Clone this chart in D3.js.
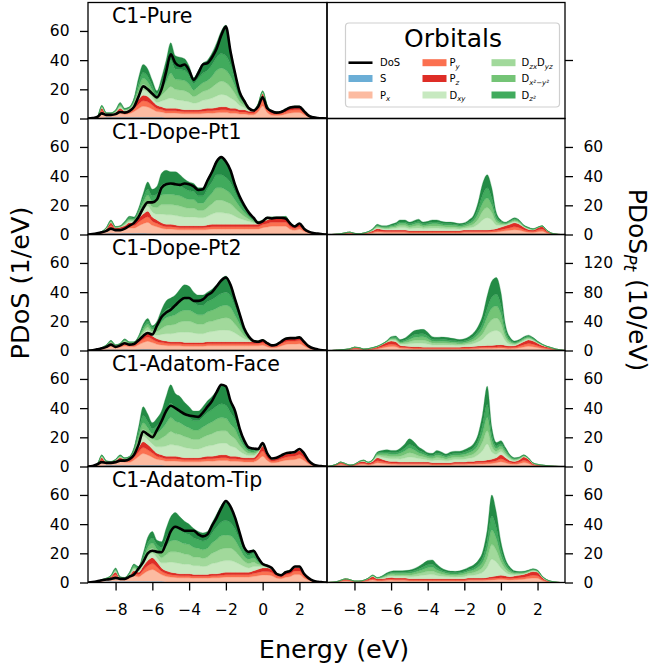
<!DOCTYPE html>
<html><head><meta charset="utf-8">
<script src="https://cdn.jsdelivr.net/npm/d3@7"></script>
<style>body{margin:0;background:#fff}svg{display:block}text{font-family:"DejaVu Sans",sans-serif}</style>
</head><body><svg id="c" width="654" height="672"></svg>
<script>
const energy=[-9.5,-9.25,-9,-8.75,-8.5,-8.25,-8,-7.75,-7.5,-7.25,-7,-6.75,-6.5,-6.25,-6,-5.75,-5.5,-5.25,-5,-4.75,-4.5,-4.25,-4,-3.75,-3.5,-3.25,-3,-2.75,-2.5,-2.25,-2,-1.75,-1.5,-1.25,-1,-0.75,-0.5,-0.25,0,0.25,0.5,0.75,1,1.25,1.5,1.75,2,2.25,2.5,2.75,3,3.25,3.5];
const xTicks=[-8,-6,-4,-2,0,2];
const yTicks=[0,20,40,60];
const yTicksPt2=[0,40,80,120];
const panelTitles=["C1-Pure","C1-Dope-Pt1","C1-Dope-Pt2","C1-Adatom-Face","C1-Adatom-Tip"];
const orbitalKeys=["S","Px","Py","Pz","Dxy","Dzx","Dyz","Dx2","Dz2"];
const orbitalColors=["#6baed6","#fcbba1","#fb7050","#de2d26","#c7e9c0","#a1d99b","#74c476","#41ab5d","#238b45"];

// ---- C1-Pure (left) ----
const pure_S=[0,0,0.2,0.5,0.8,0.8,0.8,0.8,0.8,0.8,0.8,0.8,0.8,0.8,0.8,0.8,0.8,0.4,0.4,0.4,0.4,0.4,0.4,0.4,0.4,0.4,0.4,0.3,0.3,0.3,0.3,0.3,0.3,0.3,0.3,0.3,0.3,0.3,0.3,0.2,0.2,0.2,0.2,0.2,0.2,0.2,0.2,0.2,0.2,0,0,0,0];
const pure_Px=[0,0.2,0.4,3.5,1,1,1.6,3,2,2.6,4,6,7.6,7,5.6,4,3.6,3.3,3.3,3.3,3,2.8,2.8,2.8,2.8,3,3.3,3.3,3.6,3.8,3.8,3.3,3.3,2.8,2.8,2.3,2.3,4.3,8.3,3.9,2.1,1.9,2.1,2.9,3.6,3.9,3.9,2.4,0.9,0.4,0.2,0.1,0];
const pure_Py=[0,0.1,0.2,1.5,0.5,0.5,0.8,1.6,1.1,1.3,2,3,3.8,3.6,2.8,2,1.8,1.6,1.6,1.6,1.5,1.4,1.4,1.4,1.4,1.5,1.6,1.7,1.8,1.9,1.9,1.7,1.7,1.4,1.4,1.2,1.2,2.2,4.2,1.9,1.1,0.9,1.1,1.4,1.8,1.9,1.9,1.2,0.45,0.2,0.1,0,0];
const pure_Pz=[0,0,0.2,1.5,0.7,0.7,0.8,1.6,1.1,1.3,2.2,3.2,3.8,3.6,2.8,2.2,1.8,1.7,1.7,1.7,1.6,1.4,1.4,1.4,1.4,1.6,1.7,1.7,1.8,2,2,1.7,1.7,1.5,1.5,1.2,1.2,2.2,4.2,2,1.1,1,1.1,1.5,1.9,2,2,1.2,0.45,0.2,0,0,0];
const pure_Dxy=[0,0,0,0.5,0.3,0.3,0.4,0.8,0.4,0.4,1,2.5,3.5,3,2.5,2,4,6,7,6,6,6,5.5,4.5,5,6,6,7,8,8.5,8,7,5,3,1.5,0.8,0.3,0.3,0.5,0.3,0.2,0.3,0.3,0.3,0.3,0.3,0.3,0,0,0,0,0,0];
const pure_Dzx=[0,0,0,0.5,0.2,0.2,0.4,0.8,0.4,0.4,1,2.5,4,3.5,2.5,2,4,6,8,7,7,7,6,4.5,5.5,6,6.5,7.5,8.5,9,8.5,7.5,5,2.5,1.5,0.6,0.2,0.2,0.4,0.2,0.1,0,0,0,0,0,0,0,0,0,0,0,0];
const pure_Dyz=[0,0,0,0.4,0.2,0.2,0.4,0.8,0.4,0.4,1,3,4,3.5,2.5,2,4,6,9,7,7,7,6,4.5,5.5,6,6.5,7.5,9,9,8.5,7.5,5,2.5,1.5,0.6,0.2,0.2,0.4,0.2,0.1,0,0,0,0,0,0,0,0,0,0,0,0];
const pure_Dx2=[0,0,0,0.3,0.1,0.1,0.4,0.8,0.4,0.4,1,3,4,4,3,2,4,7,9,7,7,7,6,4.5,5.5,6.5,7,8,9,10,10,8,5,2.5,1.5,0.5,0.2,0.2,0.4,0.2,0.1,0,0,0,0,0,0,0,0,0,0,0,0];
const pure_Dz2=[0,0,0,0.3,0.2,0.2,0.4,0.8,0.4,0.4,1,4,5.5,5,3.5,2,4,8,12,9,8.5,8,6.5,4,5.5,7,7,8,10,15.5,21,11,5,2.5,1,0.5,0.1,0.1,0.3,0.1,0,0,0,0,0,0,0,0,0,0,0,0,0];
const pure_DoS=[0,0.3,1,3.5,2.5,2.5,3,4.5,4,5,8,15,22,20,17,14.5,20,32,44,38,36,37,33,26.5,31,37,38,42,48,57,63,46,31,18,12,7,5.5,8,14.5,7,5,4,4.5,6,7.5,8,8,5,2,0.8,0.3,0.1,0];

// ---- C1-Dope-Pt1 (left) ----
const dope1_S=[0,0,0.2,0.4,0.7,0.8,0.7,0.7,0.8,0.8,0.8,0.8,0.8,0.7,0.6,0.5,0.5,0.4,0.4,0.4,0.4,0.3,0.3,0.3,0.3,0.3,0.3,0.3,0.3,0.3,0.3,0.3,0.3,0.3,0.3,0.3,0.3,0.3,0.3,0.3,0.3,0.3,0.3,0.3,0.2,0.2,0.2,0.2,0.1,0,0,0,0];
const dope1_Px=[0,0.2,0.3,0.5,1.7,3.6,1.9,2.2,2.6,3.6,3.6,5.1,6.6,7.6,5.7,4.8,3.8,3.3,3.3,3,2.8,2.9,2.9,2.9,2.9,2.9,3.1,3.4,3.4,3.4,3.4,3.4,3.4,3.4,3.4,3.4,3.4,3.4,4.4,4.9,5.4,5.4,5.4,5.4,3.4,2.7,3.4,1.9,1,0.5,0.3,0.1,0];
const dope1_Py=[0,0.1,0.15,0.3,0.8,1.8,0.95,1.05,1.3,1.8,1.8,2.55,3.3,3.85,2.85,2.35,1.85,1.65,1.65,1.55,1.4,1.4,1.4,1.4,1.4,1.4,1.55,1.65,1.65,1.65,1.65,1.65,1.65,1.65,1.65,1.65,1.65,1.65,2.15,2.4,2.65,2.65,2.65,2.65,1.7,1.3,1.7,0.95,0.45,0.25,0.15,0.05,0];
const dope1_Pz=[0,0,0.15,0.3,0.8,1.8,0.95,1.05,1.3,1.8,1.8,2.55,3.3,3.85,2.85,2.35,1.85,1.65,1.65,1.55,1.4,1.4,1.4,1.4,1.4,1.4,1.55,1.65,1.65,1.65,1.65,1.65,1.65,1.65,1.65,1.65,1.65,1.65,2.15,2.4,2.65,2.65,2.65,2.65,1.7,1.3,1.7,0.95,0.45,0.25,0.15,0.05,0];
const dope1_Dxy=[0,0,0,0.2,0.2,0.4,0.2,0.2,0.6,0.9,0.8,1.4,2.5,3.5,3.5,4,6,6.5,6.5,6.5,6.5,6,6,6,5.5,5.5,6,7,8,8,7.5,7,5.5,4,3,2,1,0.5,0.3,0.5,0.3,0.3,0.3,0.4,0.3,0.2,0.2,0,0,0,0,0,0];
const dope1_Dzx=[0,0,0,0.1,0.2,0.4,0.2,0.2,0.6,0.9,0.8,1.4,2.5,3.5,3.5,4.5,6.5,7,7,7,7,6.5,6,6,5,5,6,7,8.5,8.5,8,7,5.5,4,2.5,1.5,0.8,0.4,0.2,0.4,0.2,0.2,0.2,0.3,0.2,0.1,0.1,0,0,0,0,0,0];
const dope1_Dyz=[0,0,0,0.1,0.2,0.4,0.2,0.2,0.6,0.9,0.8,1.4,3,4,3.5,4.5,6.5,7,7,7,7,6.5,6,6,5,5,6.5,7.5,8.5,8.5,8,7,5.5,4,2.5,1.5,0.8,0.4,0.2,0.4,0.2,0.2,0.2,0.3,0.2,0.1,0.1,0,0,0,0,0,0];
const dope1_Dx2=[0,0,0,0.1,0.2,0.4,0.2,0.2,0.6,0.9,0.8,1.4,3,4,4,4.5,7,7.5,7,7,7,6.5,6,5.5,5,5,6.5,7.5,9,9,8.5,7.5,5.5,3.5,2.5,1.5,0.8,0.4,0.2,0.4,0.2,0.2,0.2,0.3,0.2,0.1,0.1,0,0,0,0,0,0];
const dope1_Dz2=[0,0,0,0,0.2,0.4,0.2,0.2,0.6,0.9,0.8,1.4,3,5,4.5,5.5,8,9,8.5,9,7.5,6.5,6,5.5,5.5,5.5,6.5,8,10,12,11,8.5,5,3.5,2.5,1.5,0.6,0.3,0.1,0.3,0.1,0.1,0.1,0.2,0.1,0,0,0,0,0,0,0,0];
const dope1_DoS=[0,0.3,0.8,1.5,2.5,4,3,3,4,6,8,12,18,22,22,24,32,34.5,35,34.5,34,35,34.5,33,30.5,31,37,43,50,53,50,44,34,26,20,15,11.5,8,9,11.5,11,11.5,11.5,11,7.5,5.5,7.5,4,2,1,0.6,0.2,0];

// ---- C1-Dope-Pt2 (left) ----
const dope2_S=[0,0,0.2,0.4,0.6,0.7,0.6,0.6,0.7,0.6,0.6,0.7,0.8,0.8,0.7,0.6,0.5,0.4,0.4,0.4,0.3,0.3,0.3,0.3,0.3,0.3,0.3,0.3,0.3,0.3,0.3,0.3,0.3,0.3,0.3,0.3,0.3,0.3,0.3,0.3,0.2,0.2,0.2,0.2,0.2,0.2,0.2,0.2,0.1,0,0,0,0];
const dope2_Px=[0,0.1,0.3,0.5,1.2,2.2,1.2,1.7,2.4,2,2,3.2,4.6,5.6,4.7,3.7,3.3,3,2.8,2.8,2.9,2.6,2.6,2.6,2.6,2.6,2.9,2.9,2.9,2.9,2.9,2.9,2.9,2.9,2.9,2.9,2.9,2.9,3.3,2.3,1.7,1.9,2.9,3.9,4.2,4.2,4.4,2.9,1.5,0.8,0.4,0.1,0];
const dope2_Py=[0,0.05,0.15,0.3,0.6,1.05,0.6,0.85,1.2,0.95,0.95,1.55,2.3,2.8,2.3,1.85,1.6,1.55,1.4,1.4,1.4,1.3,1.3,1.3,1.3,1.3,1.4,1.4,1.4,1.4,1.4,1.4,1.4,1.4,1.4,1.4,1.4,1.4,1.7,1.2,0.8,0.95,1.45,1.95,2.05,2.05,2.2,1.45,0.7,0.35,0.15,0.05,0];
const dope2_Pz=[0,0.05,0.15,0.3,0.6,1.05,0.6,0.85,1.2,0.95,0.95,1.55,2.3,2.8,2.3,1.85,1.6,1.55,1.4,1.4,1.4,1.3,1.3,1.3,1.3,1.3,1.4,1.4,1.4,1.4,1.4,1.4,1.4,1.4,1.4,1.4,1.4,1.4,1.7,1.2,0.8,0.95,1.45,1.95,2.05,2.05,2.2,1.45,0.7,0.35,0.15,0.05,0];
const dope2_Dxy=[0,0,0,0.2,0.2,0.4,0.2,0.2,0.5,0.3,0.3,0.6,1.5,2,1.5,2.5,4,5,5.5,6,6.5,7,7,6.5,6,6,6.5,7,7.5,8,8,7.5,6,4,2,1,0.3,0.3,0.3,0.3,0.3,0.3,0.3,0.3,0.3,0.3,0.3,0,0,0,0,0,0];
const dope2_Dzx=[0,0,0,0.1,0.2,0.4,0.2,0.2,0.5,0.3,0.3,0.6,1.5,2,1.5,2.5,4,5.5,6,6,7,7.5,7.5,7,6.5,6.5,7,7,7.5,8,8.5,8,6,4,2,0.8,0.2,0,0,0,0,0,0,0,0,0,0,0,0,0,0,0,0];
const dope2_Dyz=[0,0,0,0.1,0.2,0.4,0.2,0.2,0.5,0.3,0.3,0.6,1.5,2,1.5,2.5,4.5,5.5,6,6.5,7,7.5,7.5,7,6.5,6.5,7,7.5,8,8.5,8.5,8,6,4,2,0.8,0.2,0,0,0,0,0,0,0,0,0,0,0,0,0,0,0,0];
const dope2_Dx2=[0,0,0,0.1,0.2,0.4,0.2,0.2,0.5,0.3,0.3,0.6,1.5,2,1.5,2.5,4.5,5.5,6,6.5,7.5,8,7.5,7,6.5,6.5,7,7.5,8,8.5,9,8,6,4,2,0.8,0.2,0,0,0,0,0,0,0,0,0,0,0,0,0,0,0,0];
const dope2_Dz2=[0,0,0,0,0.2,0.4,0.2,0.2,0.5,0.3,0.3,0.6,2,2,1,2,4,6,6.5,7,8,9.5,9,7,7,7,6.5,7,8,10,11,8.5,6,4,2,0.6,0.1,0,0,0,0,0,0,0,0,0,0,0,0,0,0,0,0];
const dope2_DoS=[0,0.2,0.8,1.5,2.5,4,2.5,3.5,5,4,4.5,7,10,12,11,17,23,26,28,31,34,36,36,34,34,35,38,40,44,48,50,45,35,25,15,9.5,6.5,6,7,5,3.5,4,6,8,8.5,8.5,9,6,3,1.5,0.7,0.2,0];

// ---- C1-Adatom-Face (left) ----
const face_S=[0,0,0.2,0.5,0.8,0.8,0.8,0.8,0.8,0.8,0.8,0.8,0.8,0.8,0.8,0.8,0.8,0.4,0.4,0.4,0.4,0.4,0.4,0.4,0.4,0.4,0.4,0.3,0.3,0.3,0.3,0.3,0.3,0.3,0.3,0.3,0.3,0.3,0.3,0.2,0.2,0.2,0.2,0.2,0.2,0.2,0.2,0.2,0.2,0,0,0,0];
const face_Px=[0,0.2,0.6,2.8,1.1,1.1,1.6,2.6,2.1,2.1,3.6,6.1,8.1,7.1,5.6,4.1,3.6,3.3,3.3,3.3,3,2.8,2.8,2.8,2.8,3,3.3,3.3,3.6,3.8,3.8,3.3,3.3,3.1,2.8,2.8,2.8,4.3,6.8,3.9,2.4,2.6,3.4,4.1,4.4,4.6,5.4,3.9,1.6,0.7,0.2,0.1,0];
const face_Py=[0,0.05,0.35,1.35,0.55,0.55,0.8,1.3,1.05,1.05,1.8,3.05,4.05,3.55,2.8,2.05,1.8,1.65,1.65,1.65,1.55,1.4,1.4,1.4,1.4,1.55,1.65,1.7,1.8,1.95,1.95,1.7,1.7,1.55,1.45,1.45,1.45,2.2,3.45,1.95,1.2,1.35,1.7,2.1,2.2,2.35,2.7,1.95,0.85,0.4,0.15,0.05,0];
const face_Pz=[0,0.05,0.35,1.35,0.55,0.55,0.8,1.3,1.05,1.05,1.8,3.05,4.05,3.55,2.8,2.05,1.8,1.65,1.65,1.65,1.55,1.4,1.4,1.4,1.4,1.55,1.65,1.7,1.8,1.95,1.95,1.7,1.7,1.55,1.45,1.45,1.45,2.2,3.45,1.95,1.2,1.35,1.7,2.1,2.2,2.35,2.7,1.95,0.85,0.4,0.15,0.05,0];
const face_Dxy=[0,0,0,0.5,0.2,0.1,0.2,0.4,0.2,0.4,1,2.5,4,3.5,3.5,4.5,5.5,7,8,7.5,7.5,7,6.5,6,6,6.5,7,7.5,8,8,8,7,6,4,2.5,1.5,1.5,0.8,0.5,0.3,0.2,0.2,0.2,0.2,0.2,0.2,0.3,0.3,0.2,0,0,0,0];
const face_Dzx=[0,0,0,0.5,0.2,0.1,0.2,0.4,0.2,0.4,1,2.5,4.5,4,3.5,4.5,6,7.5,9,8,8,7.5,7,6.5,6.5,7,7.5,8,8.5,8.5,8.5,7.5,6,4,2.5,1.5,1.2,0.6,0.4,0.2,0.1,0.1,0.1,0.1,0.1,0.1,0.2,0.2,0.1,0,0,0,0];
const face_Dyz=[0,0,0,0.4,0.2,0.1,0.2,0.4,0.2,0.4,1,3,4.5,4,3.5,5,6,8,9.5,8.5,8,7.5,7,6.5,6.5,7,7.5,8,8.5,9,8.5,7.5,6.5,4,2.5,1.5,1.2,0.6,0.4,0.2,0.1,0.1,0.1,0.1,0.1,0.1,0.2,0.2,0.1,0,0,0,0];
const face_Dx2=[0,0,0,0.3,0.2,0.1,0.2,0.4,0.2,0.4,1,3,5,4.5,3.5,5,6,8.5,10,8.5,8.5,8,7,6.5,6.5,7,8,8.5,9,9.5,9,8,6.5,4,2.5,1.5,1.2,0.6,0.4,0.2,0.1,0.1,0.1,0.1,0.1,0.1,0.2,0.2,0.1,0,0,0,0];
const face_Dz2=[0,0,0,0.3,0.2,0.1,0.2,0.4,0.2,0.4,1,3,6,5,4,5,6.5,10,12.5,10.5,9.5,8,7.5,6.5,6.5,7,8,9,10.5,13,13,8,6,3.5,2,1,0.9,0.4,0.3,0.1,0,0,0,0,0,0,0.1,0.1,0,0,0,0,0];
const face_DoS=[0,0.3,1.5,3,2.5,2.5,3,4,4,5,8,15,24,22,20,25,31,38,41.6,40,38,36,35,34.5,34,37,41,45,51,56,55,45,38,26,17.7,13,12.3,12,16,9,5.5,6,7.5,9,9.5,10,12,9,4,1.5,0.5,0.2,0];

// ---- C1-Adatom-Tip (left) ----
const tip_S=[0,0,0.2,0.5,0.8,0.8,0.8,0.8,0.8,0.8,0.8,0.8,0.8,0.8,0.8,0.8,0.8,0.4,0.4,0.4,0.4,0.4,0.4,0.4,0.4,0.4,0.4,0.3,0.3,0.3,0.3,0.3,0.3,0.3,0.3,0.3,0.3,0.3,0.3,0.2,0.2,0.2,0.2,0.2,0.2,0.2,0.2,0.2,0.2,0,0,0,0];
const tip_Px=[0,0.2,0.3,0.5,0.9,1.6,3.1,1.1,0.9,1.9,3.6,3.1,5.1,7.1,8.1,6.6,4.6,3.8,3.3,3.1,2.8,2.8,2.8,2.6,2.6,2.6,2.6,2.9,2.9,3.1,3.4,3.4,3.4,3.4,3.4,3.4,3.9,4.3,4.9,4.9,4.4,2.9,2.4,3.4,3.9,5.2,5.2,2.9,1.4,0.6,0.3,0.1,0];
const tip_Py=[0,0.05,0.15,0.25,0.4,0.8,1.55,0.55,0.4,0.9,1.8,1.55,2.55,3.55,4.05,3.3,2.3,1.9,1.65,1.5,1.4,1.4,1.4,1.25,1.25,1.25,1.25,1.4,1.4,1.55,1.65,1.65,1.65,1.65,1.65,1.65,1.9,2.2,2.4,2.45,2.2,1.45,1.2,1.7,1.95,2.55,2.55,1.45,0.7,0.3,0.1,0.05,0];
const tip_Pz=[0,0.05,0.15,0.25,0.4,0.8,1.55,0.55,0.4,0.9,1.8,1.55,2.55,3.55,4.05,3.3,2.3,1.9,1.65,1.5,1.4,1.4,1.4,1.25,1.25,1.25,1.25,1.4,1.4,1.55,1.65,1.65,1.65,1.65,1.65,1.65,1.9,2.2,2.4,2.45,2.2,1.45,1.2,1.7,1.95,2.55,2.55,1.45,0.7,0.3,0.1,0.05,0];
const tip_Dxy=[0,0,0,0.2,0.2,0.2,0.6,0.2,0.2,0.5,1,0.8,1.5,3,3,3,3.5,5.5,7,7,7,6.5,6.5,6,6,5.5,6,7,7.5,8,8,8,7,5.5,4,3,3,2,1,0.5,0.3,0.2,0.2,0.2,0.2,0.2,0.2,0,0,0,0,0,0];
const tip_Dzx=[0,0,0,0.1,0.1,0.2,0.6,0.2,0.2,0.5,1,0.8,1.5,3,3.5,3,3.5,5.5,7,7.5,7.5,7,6.5,6,6,5.5,6,7,8,8.5,8.5,8.5,7.5,5.5,3.5,3,3,1.5,0.7,0.4,0.2,0.1,0.1,0.1,0.1,0.1,0.1,0,0,0,0,0,0];
const tip_Dyz=[0,0,0,0.1,0.1,0.2,0.6,0.2,0.2,0.5,1,0.8,2,3,3.5,3,3.5,5.5,7.5,8,7.5,7,7,6.5,6,6,6,7,8,9,9,8.5,7.5,5.5,3.5,3,3,1.5,0.7,0.4,0.2,0.1,0.1,0.1,0.1,0.1,0.1,0,0,0,0,0,0];
const tip_Dx2=[0,0,0,0.1,0.1,0.2,0.6,0.2,0.2,0.5,1,0.8,2,3,3.5,3,3.5,6,7.5,8.5,8,7.5,7,6.5,6,6,6,7,8.5,9.5,10,9,7.5,5.5,3.5,2.5,3,1.5,0.6,0.4,0.2,0.1,0.1,0.1,0.1,0.1,0.1,0,0,0,0,0,0];
const tip_Dz2=[0,0,0,0,0,0.2,0.6,0.2,0.2,0.5,0.7,0.8,2,4,4.5,3,4,6.5,9,10.5,9,8,7,6.5,5.5,5.5,5.5,7,9,11.5,13.5,11,8,5,3.5,2.5,2.5,2,0.5,0.3,0.1,0,0,0,0,0,0,0,0,0,0,0,0];
const tip_DoS=[0,0.3,0.8,1.5,2,2.5,3.2,2.5,2.5,4,5.5,9.6,14,20,21.8,21,20.7,27,35,38.2,37,35.5,35.5,35.5,33,31.6,33,39,44.5,51,55.9,52,44.5,34,24,21,21.8,17,12.7,11.5,10,6,5,7,8,11,11,6,3,1.2,0.5,0.2,0];

// ---- Pt PDoS, C1-Dope-Pt1 (right) ----
const dope1Pt_S=[0,0,0,0,0.1,0.1,0.1,0.1,0.1,0.1,0.2,0.2,0.2,0.2,0.2,0.2,0.2,0.2,0.2,0.2,0.2,0.2,0.2,0.1,0.1,0.1,0.1,0.1,0.1,0.1,0.1,0.1,0.1,0.1,0.1,0.1,0.1,0.1,0.1,0.1,0.1,0.1,0.1,0.1,0.1,0.1,0.1,0.1,0,0,0,0,0];
const dope1Pt_Px=[0,0,0.1,0.2,0.4,0.6,0.3,0.2,0.4,0.6,0.9,1.5,1.3,1.1,1.1,1.1,1.1,1.1,0.9,0.9,0.9,0.9,0.9,1,1,1,1,1,1,1,1.2,1.2,1.2,1.2,1.2,1.2,1.4,1.6,2,2.4,2.8,3.2,2.8,2,1.4,1.2,1.8,2.2,1.1,0.4,0.1,0,0];
const dope1Pt_Py=[0,0,0.05,0.1,0.3,0.4,0.2,0.1,0.2,0.35,0.6,0.95,0.8,0.7,0.7,0.7,0.7,0.7,0.6,0.6,0.6,0.6,0.6,0.6,0.6,0.6,0.6,0.6,0.6,0.6,0.7,0.7,0.7,0.7,0.7,0.7,0.85,1,1.2,1.5,1.7,2,1.7,1.2,0.85,0.7,1.1,1.35,0.7,0.25,0.1,0,0];
const dope1Pt_Pz=[0,0,0.05,0.2,0.4,0.5,0.2,0.1,0.3,0.45,0.8,1.35,1.2,1,1,1,1,1,0.8,0.8,0.8,0.8,0.8,0.8,0.8,0.8,0.8,0.8,0.8,0.8,1,1,1,1,1,1,1.15,1.3,1.7,2,2.4,2.7,2.4,1.7,1.15,1,1.5,1.85,1,0.35,0.1,0,0];
const dope1Pt_Dxy=[0,0,0,0,0,0,0,0,0,0.2,0.4,0.7,0.6,0.7,1,1.2,1.8,1.8,1.5,1.8,2,1.5,1.6,1.9,1.9,1.6,1.5,1.5,1.4,1.2,1.2,1.6,2.2,4,7,8.5,6.5,2.5,1.2,0.6,0.7,0.8,0.7,0.4,0.4,0.3,0.2,0.2,0.1,0,0,0,0];
const dope1Pt_Dzx=[0,0,0,0,0,0,0,0,0,0.1,0.3,0.6,0.5,0.6,0.8,1,1.4,1.4,1.2,1.4,1.6,1.2,1.3,1.5,1.5,1.3,1.2,1.2,1.1,1,1,1.4,2,3.5,6,7,5,2,1,0.5,0.6,0.7,0.6,0.3,0.3,0.2,0.1,0.1,0.1,0,0,0,0];
const dope1Pt_Dyz=[0,0,0,0,0,0,0,0,0,0.1,0.3,0.6,0.5,0.6,0.8,1,1.4,1.4,1.2,1.4,1.6,1.2,1.3,1.5,1.5,1.3,1.2,1.2,1.1,1,1,1.4,2,3.5,5.5,6.5,5,2,1,0.5,0.6,0.7,0.6,0.3,0.3,0.2,0.1,0.1,0,0,0,0,0];
const dope1Pt_Dx2=[0,0,0,0,0,0,0,0,0,0.1,0.3,0.5,0.4,0.5,0.6,0.8,1,1,0.9,1,1.2,0.9,1,1.1,1.1,1,0.9,0.9,0.8,0.8,0.8,1.2,1.8,3.5,5.5,7,5,2,0.8,0.4,0.5,0.6,0.5,0.2,0.2,0.1,0,0,0,0,0,0,0];
const dope1Pt_Dz2=[0,0,0,0,0,0,0,0,0,0,0.2,0.6,0.5,0.6,0.8,1,1.4,1.4,1.2,1.4,1.6,1.2,1.3,1.5,1.5,1.3,1.2,1.2,1.1,1,1,1.4,2,4.5,8,9,7,2.5,1,0.5,0.6,0.7,0.6,0.3,0.3,0.2,0.1,0.1,0,0,0,0,0];

// ---- Pt PDoS, C1-Dope-Pt2 (right) ----
const dope2Pt_S=[0,0,0,0,0.1,0.1,0.2,0.2,0.1,0.1,0.2,0.3,0.4,0.5,0.5,0.4,0.3,0.3,0.3,0.3,0.3,0.3,0.3,0.2,0.2,0.2,0.2,0.2,0.2,0.2,0.2,0.2,0.2,0.2,0.2,0.2,0.2,0.2,0.2,0.2,0.2,0.2,0.2,0.2,0.2,0.2,0.2,0.1,0.1,0,0,0,0];
const dope2Pt_Px=[0,0,0.2,0.4,0.6,1,1.7,1.5,0.8,1,1.3,1.9,3,4.2,5,4.6,2.7,2.3,2.1,1.9,1.9,1.7,1.7,1.7,1.7,1.7,1.7,1.7,1.7,1.7,1.9,1.9,2.1,2.3,2.5,2.7,2.7,2.9,3.1,2.7,2.3,2.5,3.5,4.7,5.7,5.1,3.9,2.8,2,1.4,0.8,0.3,0];
const dope2Pt_Py=[0,0,0.1,0.25,0.35,0.6,1.1,0.95,0.5,0.6,0.8,1.2,1.9,2.6,3.1,2.9,1.7,1.4,1.3,1.2,1.2,1.05,1.05,1.1,1.1,1.1,1.1,1.1,1.1,1.1,1.2,1.2,1.3,1.45,1.6,1.7,1.7,1.8,1.95,1.7,1.45,1.6,2.2,2.95,3.6,3.2,2.45,1.7,1.2,0.9,0.5,0.2,0];
const dope2Pt_Pz=[0,0,0.2,0.35,0.45,0.8,1.5,1.35,0.6,0.8,1.2,1.6,2.7,3.7,4.4,4.1,2.3,2,1.8,1.6,1.6,1.45,1.45,1.5,1.5,1.5,1.5,1.5,1.5,1.5,1.7,1.7,1.9,2.05,2.2,2.4,2.4,2.6,2.75,2.4,2.05,2.2,3.1,4.15,5,4.5,3.45,2.4,1.7,1.2,0.7,0.3,0];
const dope2Pt_Dxy=[0,0,0,0,0,0,0,0,0,0,0.2,0.3,0.3,0.5,1.4,1.8,1.8,2.5,3.6,4.8,5.2,5.4,4.5,3.2,3,3.1,3,2.8,2.5,2.3,2.4,3.1,4.1,6,9,15,19,20,16,6,2.6,1.4,1.3,1.5,1.4,1.1,0.7,0.5,0.3,0.2,0,0,0];
const dope2Pt_Dzx=[0,0,0,0,0,0,0,0,0,0,0.1,0.2,0.2,0.4,1.1,1.4,1.4,2,3,4,4.2,4.4,3.7,2.6,2.4,2.5,2.4,2.2,2.1,1.9,2,2.5,3.3,4.9,7.5,12,16,17,13,5,2.2,1.2,1.1,1.3,1.2,0.9,0.5,0.4,0.2,0.1,0,0,0];
const dope2Pt_Dyz=[0,0,0,0,0,0,0,0,0,0,0.1,0.2,0.2,0.4,1.1,1.4,1.4,2,3,4,4.2,4.4,3.7,2.6,2.4,2.5,2.4,2.2,2.1,1.9,2,2.5,3.3,4.9,7.5,12,16,16.5,13,5,2.2,1.2,1.1,1.3,1.2,0.9,0.5,0.4,0.2,0.1,0,0,0];
const dope2Pt_Dx2=[0,0,0,0,0,0,0,0,0,0,0.1,0.1,0.1,0.3,1,1.4,1.4,1.9,2.8,3.7,4,4.2,3.5,2.5,2.3,2.4,2.3,2.1,2,1.8,1.9,2.4,3.1,4.6,7,11.5,15,16,12,5,2,1.1,1,1.2,1.1,0.9,0.5,0.3,0.1,0.1,0,0,0];
const dope2Pt_Dz2=[0,0,0,0,0,0,0,0,0,0,0,0.2,0.2,0.4,1.4,2,2,2.6,4.1,5.5,5.9,6.1,5.1,3.6,3.4,3.5,3.4,3.2,2.8,2.6,2.7,3.5,4.7,6.6,10.5,17.5,22,23,18,7,3,1.6,1.5,1.7,1.6,1.2,0.8,0.4,0.2,0,0,0,0];

// ---- Pt PDoS, C1-Adatom-Face (right) ----
const facePt_S=[0,0,0.1,0.1,0.1,0.1,0.1,0.1,0.2,0.2,0.2,0.3,0.3,0.3,0.3,0.2,0.2,0.2,0.2,0.2,0.2,0.2,0.2,0.1,0.1,0.1,0.1,0.1,0.1,0.1,0.1,0.1,0.1,0.1,0.1,0.1,0.1,0.1,0.1,0.1,0.1,0.1,0.1,0.1,0.1,0,0,0,0,0,0,0,0];
const facePt_Px=[0,0.2,0.6,1.2,0.8,0.4,0.6,1.2,1.3,0.9,1.3,2.3,1.9,1.5,1.3,1.3,1.1,1.1,1.1,1.1,1.1,1.1,1.1,1,1,1,1,1,1.2,1.2,1.2,1.4,1.4,1.6,1.6,1.8,2,2.4,3.2,2.4,1.6,1.4,1.8,2.6,2,0.8,0.5,0.3,0.2,0.1,0,0,0];
const facePt_Py=[0,0.15,0.35,0.7,0.5,0.2,0.35,0.7,0.8,0.6,0.8,1.4,1.2,0.9,0.8,0.8,0.7,0.7,0.7,0.7,0.7,0.7,0.7,0.6,0.6,0.6,0.6,0.6,0.7,0.7,0.7,0.85,0.85,1,1,1.1,1.2,1.5,2,1.5,1,0.85,1.1,1.6,1.2,0.5,0.3,0.2,0.1,0.1,0.05,0,0];
const facePt_Pz=[0,0.15,0.45,1,0.6,0.3,0.45,1,1.2,0.8,1.2,2,1.6,1.3,1.1,1.2,1,1,1,1,1,1,1,0.8,0.8,0.8,0.8,0.8,1,1,1,1.15,1.15,1.3,1.3,1.5,1.7,2,2.7,2,1.3,1.15,1.5,2.2,1.7,0.7,0.4,0.3,0.2,0.1,0.05,0,0];
const facePt_Dxy=[0,0,0,0,0,0,0,0.2,0.3,0.2,0.4,1,1.4,1.8,1.8,1.8,2.2,2.8,3.5,3.1,2.4,2,1.5,1.5,2,1.8,1.4,1.8,1.8,1.8,2,2.2,2.7,4,7,11,5,2.4,2.2,1.6,1,0.6,0.5,0.4,0.3,0.2,0.1,0.1,0.1,0,0,0,0];
const facePt_Dzx=[0,0,0,0,0,0,0,0.1,0.2,0.1,0.3,0.8,1.2,1.5,1.5,1.5,1.9,2.4,3,2.7,2,1.7,1.3,1.3,1.7,1.5,1.2,1.5,1.5,1.5,1.7,1.9,2.4,3.4,6,9,4,2,1.9,1.4,0.8,0.5,0.4,0.3,0.2,0.1,0.1,0.1,0,0,0,0,0];
const facePt_Dyz=[0,0,0,0,0,0,0,0.1,0.2,0.1,0.3,0.8,1.2,1.5,1.5,1.5,1.9,2.4,3,2.7,2,1.7,1.3,1.3,1.7,1.5,1.2,1.5,1.5,1.5,1.7,1.9,2.4,3.4,6,9,4,2,1.9,1.4,0.8,0.5,0.4,0.3,0.2,0.1,0.1,0,0,0,0,0,0];
const facePt_Dx2=[0,0,0,0,0,0,0,0.1,0.1,0.1,0.2,0.6,0.9,1.1,1.1,1.1,1.4,2,2.6,2.3,1.7,1.3,1,1,1.3,1.1,1,1.1,1.1,1.1,1.3,1.4,1.9,3,5.5,9,4,1.7,1.6,1.1,0.6,0.4,0.3,0.2,0.1,0.1,0,0,0,0,0,0,0];
const facePt_Dz2=[0,0,0,0,0,0,0,0,0.2,0,0.3,0.8,1.3,1.6,1.6,1.6,2.1,2.9,3.9,3.2,2.4,1.8,1.4,1.4,1.8,1.6,1.3,1.6,1.6,1.6,1.8,2.1,2.6,4.2,7.5,12.5,5,2.4,2.1,1.5,0.8,0.5,0.4,0.3,0.2,0,0,0,0,0,0,0,0];

// ---- Pt PDoS, C1-Adatom-Tip (right) ----
const tipPt_S=[0,0,0,0.1,0.1,0.1,0.1,0.1,0.1,0.2,0.2,0.2,0.2,0.2,0.3,0.2,0.2,0.2,0.2,0.2,0.2,0.2,0.2,0.1,0.1,0.1,0.1,0.1,0.1,0.1,0.1,0.1,0.1,0.1,0.1,0.1,0.1,0.1,0.1,0.1,0.1,0.1,0.1,0.1,0.1,0.1,0.1,0,0,0,0,0,0];
const tipPt_Px=[0,0.1,0.2,0.6,1,0.8,0.4,0.4,0.6,0.9,1.5,0.9,0.9,1.1,1.3,1.1,1.1,1.1,0.9,0.9,0.9,0.9,0.9,1,1,1,1,1,1,1,1,1.2,1.2,1.2,1.2,1.4,1.6,1.8,2,1.8,1.6,1.8,2,2.2,2.6,3,2.8,1.4,0.6,0.2,0.1,0,0];
const tipPt_Py=[0,0.05,0.1,0.35,0.6,0.5,0.2,0.2,0.35,0.6,0.95,0.6,0.6,0.7,0.8,0.7,0.7,0.7,0.6,0.6,0.6,0.6,0.6,0.6,0.6,0.6,0.6,0.6,0.6,0.6,0.6,0.7,0.7,0.7,0.7,0.85,1,1.1,1.2,1.1,1,1.1,1.2,1.35,1.6,1.85,1.7,0.9,0.4,0.15,0.05,0,0];
const tipPt_Pz=[0,0.05,0.2,0.45,0.8,0.6,0.3,0.3,0.45,0.8,1.35,0.8,0.8,1,1.1,1,1,1,0.8,0.8,0.8,0.8,0.8,0.8,0.8,0.8,0.8,0.8,0.8,0.8,0.8,1,1,1,1,1.15,1.3,1.5,1.7,1.5,1.3,1.5,1.7,1.85,2.2,2.55,2.4,1.2,0.5,0.25,0.05,0,0];
const tipPt_Dxy=[0,0,0,0,0,0,0,0,0,0.2,0.3,0.3,0.5,0.8,1,1.2,1.2,1.2,1.4,1.6,2,2.4,2.8,2.9,2.3,1.8,1.4,1.3,1.2,1.3,1.5,1.8,2,2.7,4,7,12,9.5,5,2.6,1.5,0.8,0.6,0.5,0.5,0.5,0.4,0.3,0.2,0.1,0.1,0,0];
const tipPt_Dzx=[0,0,0,0,0,0,0,0,0,0.1,0.3,0.2,0.4,0.7,0.8,1,1,1,1.2,1.4,1.7,2,2.4,2.5,1.9,1.5,1.2,1,1,1.1,1.3,1.5,1.8,2.4,3.4,6,10,8,4.2,2.2,1.3,0.7,0.5,0.4,0.4,0.4,0.3,0.2,0.1,0.1,0,0,0];
const tipPt_Dyz=[0,0,0,0,0,0,0,0,0,0.1,0.2,0.2,0.4,0.7,0.8,1,1,1,1.2,1.4,1.7,2,2.4,2.5,1.9,1.5,1.2,1,1,1.1,1.3,1.5,1.8,2.4,3.4,6,10,8,4.2,2.2,1.3,0.7,0.5,0.4,0.4,0.4,0.3,0.2,0.1,0,0,0,0];
const tipPt_Dx2=[0,0,0,0,0,0,0,0,0,0.1,0.2,0.1,0.3,0.5,0.7,0.8,0.8,0.9,1,1.1,1.3,1.7,2,2.1,1.6,1.1,1,0.9,0.9,0.9,1,1.1,1.4,1.9,3,5.5,9.5,7.5,4,2,1,0.5,0.4,0.4,0.3,0.3,0.2,0.1,0.1,0,0,0,0];
const tipPt_Dz2=[0,0,0,0,0,0,0,0,0,0,0.2,0.2,0.4,0.8,0.9,1,1,1.1,1.2,1.5,1.8,2.4,2.9,3,2.3,1.6,1.2,1.1,1.1,1.1,1.4,1.6,2,2.6,4.2,8,14.5,10.5,5.6,2.5,1.4,0.8,0.5,0.5,0.4,0.4,0.3,0.2,0,0,0,0,0];

// ---------------- drawing ----------------
const svg=d3.select("#c");
const colX=[[88,327],[327,565]];
const top0=2.5,rowH=116;
const xDomain=[-9.5,3.5];
const yMaxStd=79.5, yMaxPt2=159;
const FONT='"DejaVu Sans", sans-serif';

const leftPanels=[
 {layers:[pure_S,pure_Px,pure_Py,pure_Pz,pure_Dxy,pure_Dzx,pure_Dyz,pure_Dx2,pure_Dz2],dos:pure_DoS},
 {layers:[dope1_S,dope1_Px,dope1_Py,dope1_Pz,dope1_Dxy,dope1_Dzx,dope1_Dyz,dope1_Dx2,dope1_Dz2],dos:dope1_DoS},
 {layers:[dope2_S,dope2_Px,dope2_Py,dope2_Pz,dope2_Dxy,dope2_Dzx,dope2_Dyz,dope2_Dx2,dope2_Dz2],dos:dope2_DoS},
 {layers:[face_S,face_Px,face_Py,face_Pz,face_Dxy,face_Dzx,face_Dyz,face_Dx2,face_Dz2],dos:face_DoS},
 {layers:[tip_S,tip_Px,tip_Py,tip_Pz,tip_Dxy,tip_Dzx,tip_Dyz,tip_Dx2,tip_Dz2],dos:tip_DoS}
];
const rightPanels=[
 null,
 {layers:[dope1Pt_S,dope1Pt_Px,dope1Pt_Py,dope1Pt_Pz,dope1Pt_Dxy,dope1Pt_Dzx,dope1Pt_Dyz,dope1Pt_Dx2,dope1Pt_Dz2],ymax:yMaxStd,ticks:yTicks},
 {layers:[dope2Pt_S,dope2Pt_Px,dope2Pt_Py,dope2Pt_Pz,dope2Pt_Dxy,dope2Pt_Dzx,dope2Pt_Dyz,dope2Pt_Dx2,dope2Pt_Dz2],ymax:yMaxPt2,ticks:yTicksPt2},
 {layers:[facePt_S,facePt_Px,facePt_Py,facePt_Pz,facePt_Dxy,facePt_Dzx,facePt_Dyz,facePt_Dx2,facePt_Dz2],ymax:yMaxStd,ticks:yTicks},
 {layers:[tipPt_S,tipPt_Px,tipPt_Py,tipPt_Pz,tipPt_Dxy,tipPt_Dzx,tipPt_Dyz,tipPt_Dx2,tipPt_Dz2],ymax:yMaxStd,ticks:yTicks}
];

function scalesFor(ci,ri,ymax){
  const [x0,x1]=colX[ci];const y0=top0+ri*rowH;
  return {x:d3.scaleLinear().domain(xDomain).range([x0,x1]),
          y:d3.scaleLinear().domain([0,ymax]).range([y0+rowH,y0]),x0,x1,y0};
}
function drawData(ci,ri,p,ymax){
  const s=scalesFor(ci,ri,ymax);
  const id="clip"+ci+"_"+ri;
  svg.append("clipPath").attr("id",id).append("rect")
     .attr("x",s.x0).attr("y",s.y0).attr("width",s.x1-s.x0).attr("height",rowH);
  const g=svg.append("g").attr("clip-path","url(#"+id+")");
  const table=energy.map((e,i)=>{const o={E:e};orbitalKeys.forEach((k,j)=>{o[k]=(p.layers[j][i]??0);});return o;});
  const series=d3.stack().keys(orbitalKeys)(table);
  const area=d3.area().x(d=>s.x(d.data.E)).y0(d=>s.y(d[0])).y1(d=>s.y(d[1])).curve(d3.curveMonotoneX);
  g.selectAll("path.layer").data(series).join("path").attr("class","layer")
    .attr("d",area).attr("fill",(d,i)=>orbitalColors[i]).attr("stroke",(d,i)=>orbitalColors[i]).attr("stroke-width",0.3);
  if(p.dos){
    const line=d3.line().x((d,i)=>s.x(energy[i])).y(d=>s.y(d)).curve(d3.curveMonotoneX);
    g.append("path").attr("d",line(p.dos)).attr("fill","none").attr("stroke","#000").attr("stroke-width",2.6).attr("stroke-linejoin","round");
  }
  return s;
}
function styleAxis(g){
  g.select(".domain").remove();
  g.attr("font-size",15.5).attr("font-family",FONT);
  g.selectAll(".tick line").attr("stroke","#000").attr("stroke-width",1.3);
  g.selectAll(".tick text").attr("fill","#000");
}

for(let r=0;r<5;r++){
  const sL=drawData(0,r,leftPanels[r],yMaxStd);
  const gy=svg.append("g").attr("transform","translate("+colX[0][0]+",0)")
     .call(d3.axisLeft(sL.y).tickValues(yTicks).tickSize(8).tickPadding(10.5));
  styleAxis(gy);
  svg.append("text").attr("x",112).attr("y",sL.y0+20.8).attr("font-size",20.5).attr("fill","#000").text(panelTitles[r]);
  const rp=rightPanels[r];
  if(rp){
    const sR=drawData(1,r,rp,rp.ymax);
    const gr=svg.append("g").attr("transform","translate("+colX[1][1]+",0)")
      .call(d3.axisRight(sR.y).tickValues(rp.ticks).tickSize(8).tickPadding(10.5));
    styleAxis(gr);
  } else {
    const y0=top0+r*rowH;
    svg.append("line").attr("x1",colX[1][1]).attr("x2",colX[1][1]+8).attr("y1",y0+rowH/2).attr("y2",y0+rowH/2).attr("stroke","#000").attr("stroke-width",1.3);
  }
}
// bottom x axes
for(let c=0;c<2;c++){
  const s=scalesFor(c,4,yMaxStd);
  const gx=svg.append("g").attr("transform","translate(0,"+(top0+5*rowH)+")")
    .call(d3.axisBottom(s.x).tickValues(xTicks).tickSize(8).tickPadding(13));
  styleAxis(gx);
}
// panel borders
for(let r=0;r<5;r++)for(let c=0;c<2;c++){
  svg.append("rect").attr("x",colX[c][0]).attr("y",top0+r*rowH).attr("width",colX[c][1]-colX[c][0]).attr("height",rowH)
    .attr("fill","none").attr("stroke","#000").attr("stroke-width",1.3);
}
// axis labels
svg.append("text").attr("transform","translate(29,283) rotate(-90)").attr("text-anchor","middle")
  .attr("font-size",25.5).attr("fill","#000").text("PDoS (1/eV)");
const rl=svg.append("text").attr("transform","translate(629,280) rotate(90)").attr("text-anchor","middle")
  .attr("font-size",25).attr("fill","#000");
rl.append("tspan").text("PDoS");
rl.append("tspan").attr("font-size",17).attr("font-style","italic").attr("dy",5).text("Pt");
rl.append("tspan").attr("dy",-5).text(" (10/eV)");
svg.append("text").attr("x",334).attr("y",658).attr("text-anchor","middle")
  .attr("font-size",25.5).attr("fill","#000").text("Energy (eV)");

// legend
const legendLabels=[[["DoS",""]],[["S",""]],[["P",""],["x","s"]],[["P",""],["y","s"]],[["P",""],["z","s"]],[["D",""],["xy","s"]],[["D",""],["zx","s"],["D",""],["yz","s"]],[["D",""],["x\u00b2\u2212y\u00b2","s"]],[["D",""],["z\u00b2","s"]]];
const legendColors=["#000","#6baed6","#fcbba1","#fb7050","#de2d26","#c7e9c0","#a1d99b","#74c476","#41ab5d"];
const lg=svg.append("g");
lg.append("rect").attr("x",345.5).attr("y",23).attr("width",214).attr("height",84).attr("rx",3.5)
  .attr("fill","#fff").attr("fill-opacity",0.85).attr("stroke","#cfcfcf").attr("stroke-width",1.2);
lg.append("text").attr("x",453).attr("y",47).attr("text-anchor","middle").attr("font-size",25).attr("fill","#000").text("Orbitals");
const colHX=[348.5,422.5,491.5], colTX=[380,449.5,521.5], rowY=[62.7,78.5,95];
legendLabels.forEach((lab,k)=>{
  const c=Math.floor(k/3), r=k%3;
  const yy=rowY[r];
  if(k===0){
    lg.append("line").attr("x1",colHX[c]).attr("x2",colHX[c]+24).attr("y1",yy).attr("y2",yy).attr("stroke","#000").attr("stroke-width",2.6);
  } else {
    lg.append("rect").attr("x",colHX[c]).attr("y",yy-3.5).attr("width",24).attr("height",7).attr("fill",legendColors[k]);
  }
  const t=lg.append("text").attr("x",colTX[c]).attr("y",yy+3.6).attr("font-size",10).attr("fill","#000");
  let sub=false;
  lab.forEach(([txt,kind])=>{
    const ts=t.append("tspan").text(txt);
    if(kind==="s"){ts.attr("font-size",7).attr("font-style","italic").attr("dy",sub?0:2.5);sub=true;}
    else{ if(sub){ts.attr("dy",-2.5);} sub=false;}
  });
});
</script></body></html>
